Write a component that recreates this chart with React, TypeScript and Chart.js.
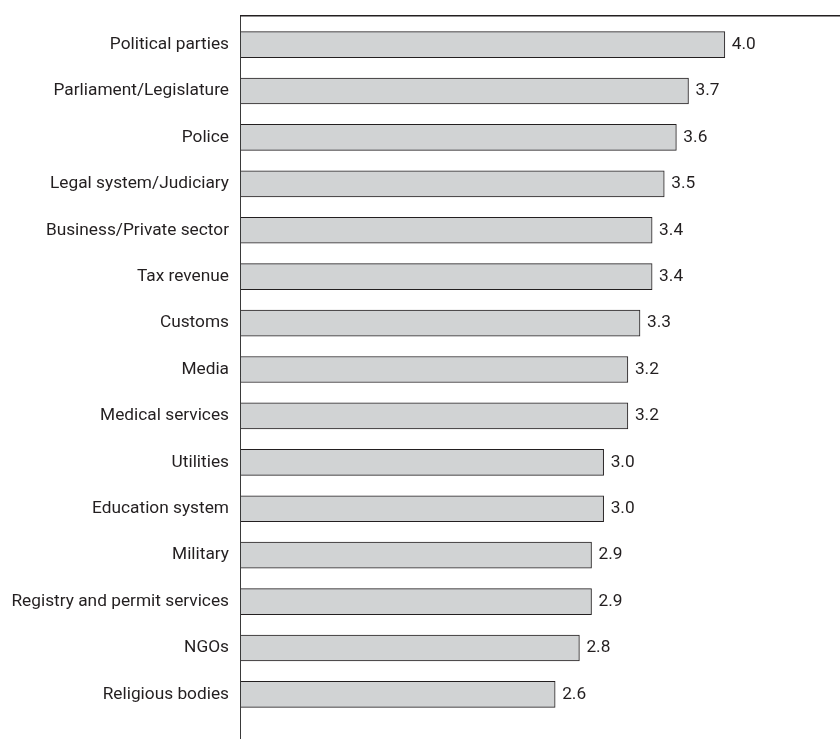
import React, { useEffect, useRef } from "react";
import { Chart, registerables } from "chart.js";

Chart.register(...registerables);

const categories = [
  "Political parties",
  "Parliament/Legislature",
  "Police",
  "Legal system/Judiciary",
  "Business/Private sector",
  "Tax revenue",
  "Customs",
  "Media",
  "Medical services",
  "Utilities",
  "Education system",
  "Military",
  "Registry and permit services",
  "NGOs",
  "Religious bodies",
];

const scores = [4.0, 3.7, 3.6, 3.5, 3.4, 3.4, 3.3, 3.2, 3.2, 3.0, 3.0, 2.9, 2.9, 2.8, 2.6];

const FONT_FAMILY = "Roboto, 'Open Sans', sans-serif";
const FONT_SIZE = 17.3;
const TEXT_COLOR = "#231f20";

const framePlugin = {
  id: "frame",
  afterDatasetsDraw(chart: any) {
    const { ctx, chartArea } = chart;
    const topY = chartArea.top - 6;
    ctx.save();
    ctx.strokeStyle = "#3a3a3a";
    ctx.lineWidth = 1;
    ctx.beginPath();
    ctx.moveTo(chartArea.left + 0.5, topY);
    ctx.lineTo(chartArea.left + 0.5, chart.height);
    ctx.stroke();
    ctx.strokeStyle = "#231f20";
    ctx.lineWidth = 1.5;
    ctx.beginPath();
    ctx.moveTo(chartArea.left, topY + 0.25);
    ctx.lineTo(chart.width, topY + 0.25);
    ctx.stroke();
    ctx.restore();
  },
};

const valueLabelPlugin = {
  id: "valueLabels",
  afterDatasetsDraw(chart: any) {
    const { ctx } = chart;
    const meta = chart.getDatasetMeta(0);
    const data = chart.data.datasets[0].data as number[];
    ctx.save();
    ctx.font = `${FONT_SIZE}px ${FONT_FAMILY}`;
    ctx.fillStyle = TEXT_COLOR;
    ctx.textAlign = "left";
    ctx.textBaseline = "middle";
    meta.data.forEach((el: any, i: number) => {
      ctx.fillText(data[i].toFixed(1), el.x + 7, el.y);
    });
    ctx.restore();
  },
};

export default function App() {
  const canvasRef = useRef<HTMLCanvasElement | null>(null);

  useEffect(() => {
    if (!canvasRef.current) return;
    const chart = new Chart(canvasRef.current, {
      type: "bar",
      data: {
        labels: categories,
        datasets: [
          {
            data: scores,
            backgroundColor: "#d1d3d4",
            borderColor: "#231f20",
            borderWidth: 1,
            borderSkipped: false,
            barThickness: 26,
          },
        ],
      },
      options: {
        indexAxis: "y",
        animation: false,
        responsive: false,
        devicePixelRatio: 1,
        layout: { padding: { top: 19, left: 0, right: 0, bottom: 0 } },
        plugins: {
          legend: { display: false },
          tooltip: { enabled: false },
        },
        scales: {
          x: {
            display: false,
            min: 0,
            max: 4.95,
          },
          y: {
            grid: { display: false, drawTicks: false },
            border: { display: false },
            ticks: {
              color: TEXT_COLOR,
              padding: 11,
              font: { family: FONT_FAMILY, size: FONT_SIZE },
            },
            afterFit(scale: any) {
              scale.width = 240;
            },
          },
        },
      },
      plugins: [framePlugin, valueLabelPlugin],
    });
    return () => chart.destroy();
  }, []);

  return (
    <div style={{ position: "absolute", left: 0, top: 0, width: 840, height: 739, background: "#fff" }}>
      <canvas ref={canvasRef} width={840} height={739} />
    </div>
  );
}
